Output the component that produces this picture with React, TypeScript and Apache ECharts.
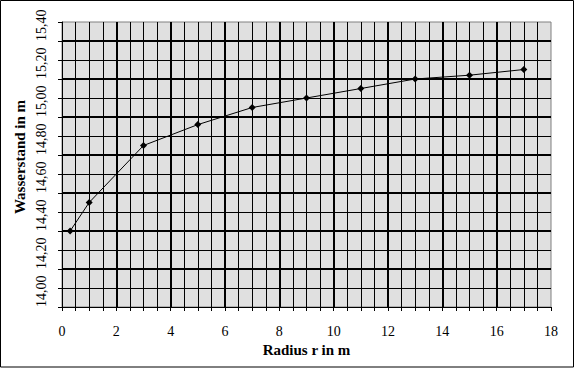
import React, { useEffect, useRef } from "react";
import * as echarts from "echarts";

const radius = [0.3, 1, 3, 5, 7, 9, 11, 13, 15, 17];
const level = [14.4, 14.55, 14.85, 14.96, 15.05, 15.1, 15.15, 15.2, 15.22, 15.25];
const xTitle = "Radius r in m";
const yTitle = "Wasserstand in m";

const FONT = "'Liberation Serif', 'Times New Roman', serif";

export default function App() {
  const ref = useRef<HTMLDivElement>(null);
  useEffect(() => {
    if (!ref.current) return;
    const chart = echarts.init(ref.current, undefined, { renderer: "svg" });
    const fmtY = (v: number) => {
      const r = Math.round(v * 100) / 100;
      if (r > 15.45) return "";
      return r.toFixed(2).replace(".", ",");
    };
    chart.setOption({
      animation: false,
      backgroundColor: "#ffffff",
      textStyle: { fontFamily: FONT },
      grid: {
        left: 62,
        right: 24,
        top: 22,
        bottom: 61,
        show: true,
        backgroundColor: "#e0e0e0",
        borderColor: "#808080",
        borderWidth: 1,
      },
      graphic: [
        {
          type: "rect",
          shape: { x: 0.5, y: 0.5, width: 573, height: 366.5 },
          style: { fill: "none", stroke: "#000", lineWidth: 1 },
          silent: true,
          z: 100,
        },
        {
          type: "text",
          x: 20,
          y: 157,
          rotation: Math.PI / 2,
          style: {
            text: yTitle,
            fontFamily: FONT,
            fontSize: 15,
            fontWeight: "bold",
            fill: "#000",
            align: "center",
            verticalAlign: "middle",
          },
          silent: true,
        },
      ],
      xAxis: {
        type: "value",
        min: 0,
        max: 18,
        interval: 2,
        name: xTitle,
        nameLocation: "middle",
        nameGap: 35,
        nameTextStyle: { fontFamily: FONT, fontSize: 15, fontWeight: "bold", color: "#000" },
        axisLine: { show: true, onZero: false, lineStyle: { color: "#000", width: 1 } },
        axisTick: { show: true, length: 4, lineStyle: { color: "#000" } },
        minorTick: { show: true, splitNumber: 4, length: 4, lineStyle: { color: "#000" } },
        axisLabel: { fontFamily: FONT, fontSize: 14, color: "#000", margin: 17 },
        splitLine: {
          show: true,
          showMinLine: false,
          showMaxLine: false,
          lineStyle: { color: "#000", width: 2 },
        },
        minorSplitLine: { show: true, lineStyle: { color: "#000", width: 1 } },
      },
      yAxis: [
        {
          type: "value",
          min: 14,
          max: 15.5,
          interval: 0.2,
          position: "left",
          axisLine: { show: true, lineStyle: { color: "#000", width: 1 } },
          axisTick: { show: true, length: 4, lineStyle: { color: "#000" } },
          axisLabel: {
            rotate: 90,
            align: "left",
            verticalAlign: "bottom",
            fontFamily: FONT,
            fontSize: 14,
            color: "#000",
            margin: 14,
            formatter: fmtY,
            showMaxLabel: false,
          },
          splitLine: {
            show: true,
            showMinLine: false,
            showMaxLine: false,
            lineStyle: { color: "#000", width: 2 },
          },
        },
        {
          type: "value",
          min: 14,
          max: 15.5,
          interval: 0.1,
          position: "left",
          axisLine: { show: false },
          axisTick: { show: true, length: 4, lineStyle: { color: "#000" } },
          axisLabel: { show: false },
          splitLine: {
            show: true,
            showMinLine: false,
            showMaxLine: false,
            lineStyle: { color: "#000", width: 1 },
          },
        },
      ],
      series: [
        {
          type: "line",
          yAxisIndex: 0,
          data: radius.map((r, i) => [r, level[i]]),
          symbol: "diamond",
          symbolSize: 7,
          showAllSymbol: true,
          itemStyle: { color: "#000" },
          lineStyle: { color: "#000", width: 1 },
          z: 10,
        },
      ],
    });
    return () => chart.dispose();
  }, []);
  return (
    <div
      ref={ref}
      style={{ position: "absolute", left: 0, top: 0, width: 575, height: 368 }}
    />
  );
}
